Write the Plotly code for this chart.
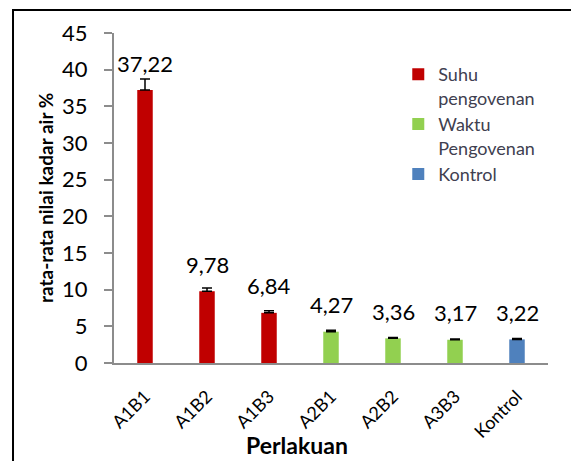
import plotly.graph_objects as go

# data
categories = ["A1B1", "A1B2", "A1B3", "A2B1", "A2B2", "A3B3", "Kontrol"]
values = [37.22, 9.78, 6.84, 4.27, 3.36, 3.17, 3.22]
errors = [1.5, 0.45, 0.3, 0.2, 0.12, 0.1, 0.12]
labels = ["37,22", "9,78", "6,84", "4,27", "3,36", "3,17", "3,22"]
groups = ["Suhu<br>pengovenan"] * 3 + ["Waktu<br>Pengovenan"] * 3 + ["Kontrol"]
group_names = ["Suhu<br>pengovenan", "Waktu<br>Pengovenan", "Kontrol"]
group_colors = ["#C00000", "#92D050", "#4F81BD"]

FONT = "Lato, Open Sans, sans-serif"
AXIS_GREY = "#8c8c8c"

fig = go.Figure()
for name, color in zip(group_names, group_colors):
    idx = [i for i, g in enumerate(groups) if g == name]
    fig.add_trace(go.Bar(
        x=[categories[i] for i in idx],
        y=[values[i] for i in idx],
        name=name,
        marker=dict(color=color, line=dict(width=0)),
        width=0.25,
        error_y=dict(type="data", array=[errors[i] for i in idx],
                     arrayminus=[0] * len(idx), symmetric=False,
                     color="black", thickness=1.5, width=5),
    ))

# angka di atas batang
for c, v, t in zip(categories, values, labels):
    fig.add_annotation(x=c, y=v, text=t, showarrow=False, yanchor="middle",
                       yshift=27, font=dict(family=FONT, size=22, color="black"))

# judul sumbu sebagai anotasi supaya posisinya pas
fig.add_annotation(xref="paper", yref="paper", x=0.4217, y=-0.248,
                   text="<b>Perlakuan</b>", showarrow=False,
                   xanchor="center", yanchor="middle",
                   font=dict(family=FONT, size=23, color="black"))
fig.add_annotation(xref="paper", yref="paper", x=-0.159, y=0.5,
                   text="<b>rata-rata nilai kadar air %</b>", showarrow=False,
                   textangle=-90, xanchor="center", yanchor="middle",
                   font=dict(family=FONT, size=19, color="black"))

# bingkai luar
fig.add_shape(type="rect", xref="paper", yref="paper",
              x0=-0.2327, x1=1.25, y0=-0.4, y1=1.0697,
              line=dict(color="black", width=2), fillcolor="rgba(0,0,0,0)")

fig.update_layout(
    width=579, height=461,
    # page body has an 8px margin, so the plot is shifted by that
    margin=dict(l=106, r=39, t=25, b=106),
    paper_bgcolor="white", plot_bgcolor="white",
    barmode="overlay",
    font=dict(family=FONT, color="black"),
    legend=dict(x=0.655, y=0.93, xanchor="left", yanchor="top",
                font=dict(family=FONT, size=18, color="#404050"),
                valign="top", itemwidth=30, tracegroupgap=2,
                bgcolor="rgba(0,0,0,0)"),
    xaxis=dict(categoryorder="array", categoryarray=categories,
               tickangle=-45, tickfont=dict(size=18),
               showline=True, linecolor=AXIS_GREY, linewidth=2,
               ticks="", showgrid=False, ticklabelstandoff=14),
    yaxis=dict(range=[0, 45], dtick=5, tickfont=dict(size=22),
               showline=True, linecolor=AXIS_GREY, linewidth=2,
               ticks="outside", ticklen=8, tickcolor=AXIS_GREY, tickwidth=2,
               showgrid=False, zeroline=False, ticklabelstandoff=12),
)

fig.write_html("out.html")
